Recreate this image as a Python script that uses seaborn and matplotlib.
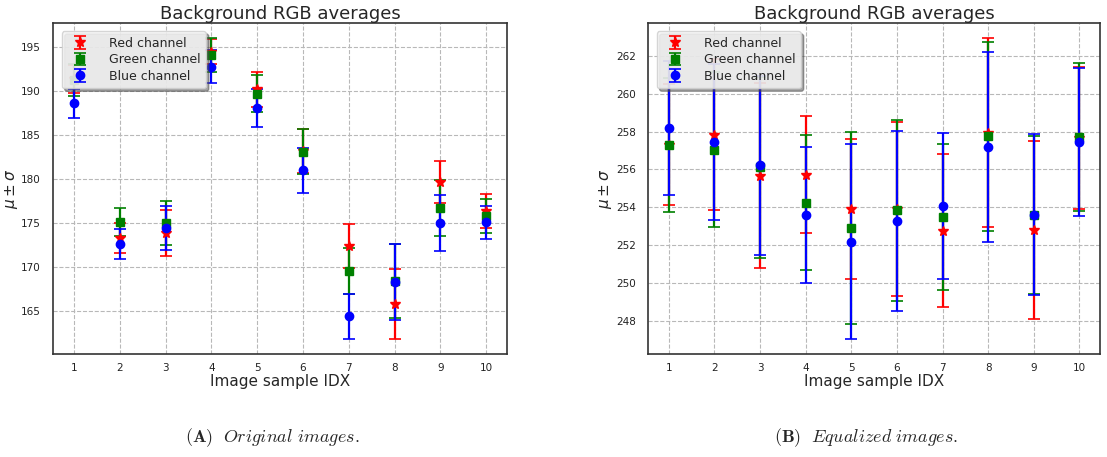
import matplotlib
matplotlib.use("Agg")
import matplotlib.pyplot as plt
from matplotlib.ticker import MultipleLocator
import seaborn as sns

# ---------------- data ----------------
idx = [1, 2, 3, 4, 5, 6, 7, 8, 9, 10]

# (A) Original images
orig_red_mean   = [191.4, 173.3, 173.9, 194.5, 190.2, 183.2, 172.4, 165.8, 179.7, 176.4]
orig_red_std    = [1.6, 1.7, 2.6, 1.4, 2.0, 2.45, 2.5, 4.0, 2.4, 1.9]
orig_green_mean = [191.3, 175.1, 175.0, 194.1, 189.7, 183.1, 169.6, 168.4, 176.7, 175.8]
orig_green_std  = [1.8, 1.6, 2.5, 1.9, 2.1, 2.55, 2.6, 4.2, 3.2, 1.9]
orig_blue_mean  = [188.6, 172.6, 174.5, 192.8, 188.1, 181.0, 164.4, 168.3, 175.0, 175.1]
orig_blue_std   = [1.7, 1.7, 2.5, 1.9, 2.2, 2.55, 2.6, 4.3, 3.2, 1.9]

# (B) Equalized images
eq_red_mean   = [257.3, 257.85, 255.66, 255.72, 253.92, 253.90, 252.75, 257.94, 252.79, 257.67]
eq_red_std    = [3.2, 4.02, 4.89, 3.10, 3.70, 4.62, 4.05, 5.00, 4.70, 3.77]
eq_green_mean = [257.28, 257.05, 256.11, 254.25, 252.90, 253.83, 253.49, 257.76, 253.58, 257.73]
eq_green_std  = [3.55, 4.12, 4.81, 3.58, 5.10, 4.77, 3.87, 5.00, 4.20, 3.92]
eq_blue_mean  = [258.18, 257.47, 256.22, 253.59, 252.17, 253.28, 254.07, 257.18, 253.61, 257.44]
eq_blue_std   = [3.55, 4.13, 4.74, 3.58, 5.16, 4.78, 3.88, 5.03, 4.25, 3.93]

channel_labels = ["Red channel", "Green channel", "Blue channel"]
channel_colors = ["red", "green", "blue"]
channel_markers = ["*", "s", "o"]

title_text = "Background RGB averages"
xlabel_text = "Image sample IDX"
ylabel_text = r"$\mu \pm \sigma$"
captions = [r"$\mathbf{(A)}\ \ \mathit{Original\ images.}$",
            r"$\mathbf{(B)}\ \ \mathit{Equalized\ images.}$"]

# ---------------- style ----------------
sns.set_theme(style="whitegrid", rc={
    "grid.linestyle": "--",
    "grid.color": "#b8b8b8",
    "grid.linewidth": 0.8,
    "axes.edgecolor": "#333333",
    "axes.linewidth": 1.2,
    "xtick.labelsize": 7.5,
    "ytick.labelsize": 7.5,
    "xtick.color": "#222222",
    "ytick.color": "#222222",
})
plt.rcParams["font.family"] = ["DejaVu Sans"]

fig = plt.figure(figsize=(11.07, 4.57), dpi=100)
ax_a = fig.add_axes([0.0482, 0.2247, 0.4096, 0.7243])
ax_b = fig.add_axes([0.5856, 0.2247, 0.4080, 0.7243])

panels = [
    (ax_a, [orig_red_mean, orig_green_mean, orig_blue_mean],
     [orig_red_std, orig_green_std, orig_blue_std], 5),
    (ax_b, [eq_red_mean, eq_green_mean, eq_blue_mean],
     [eq_red_std, eq_green_std, eq_blue_std], 2),
]

for ax, means, stds, step in panels:
    for m, s, lab, col, mk in zip(means, stds, channel_labels, channel_colors, channel_markers):
        ax.errorbar(idx, m, yerr=s, fmt=mk, color=col, ecolor=col,
                    markersize=7 if mk == "*" else 6, elinewidth=1.6,
                    capsize=4.5, capthick=1.2, label=lab)
    ax.set_xticks(idx)
    ax.yaxis.set_major_locator(MultipleLocator(step))
    ax.set_title(title_text, fontsize=13, pad=3)
    ax.set_xlabel(xlabel_text, fontsize=11, labelpad=1)
    ax.set_ylabel(ylabel_text, fontsize=11, labelpad=1)
    ax.tick_params(axis="x", pad=0)
    ax.tick_params(axis="y", pad=3)
    ax.set_axisbelow(True)
    for sp in ax.spines.values():
        sp.set_color("#333333")
    leg = ax.legend(loc="upper left", fontsize=9, frameon=True, shadow=True,
                    fancybox=True, framealpha=0.85, borderpad=0.45,
                    handletextpad=1.3, labelspacing=0.28,
                    bbox_to_anchor=(0.005, 0.995))
    leg.get_frame().set_facecolor("#f6f6f6")
    leg.get_frame().set_edgecolor("#cfcfcf")

fig.text(0.2457, 0.042, captions[0], ha="center", va="center",
         fontsize=13, math_fontfamily="cm")
fig.text(0.7825, 0.042, captions[1], ha="center", va="center",
         fontsize=13, math_fontfamily="cm")

fig.savefig("out.png", dpi=100)
